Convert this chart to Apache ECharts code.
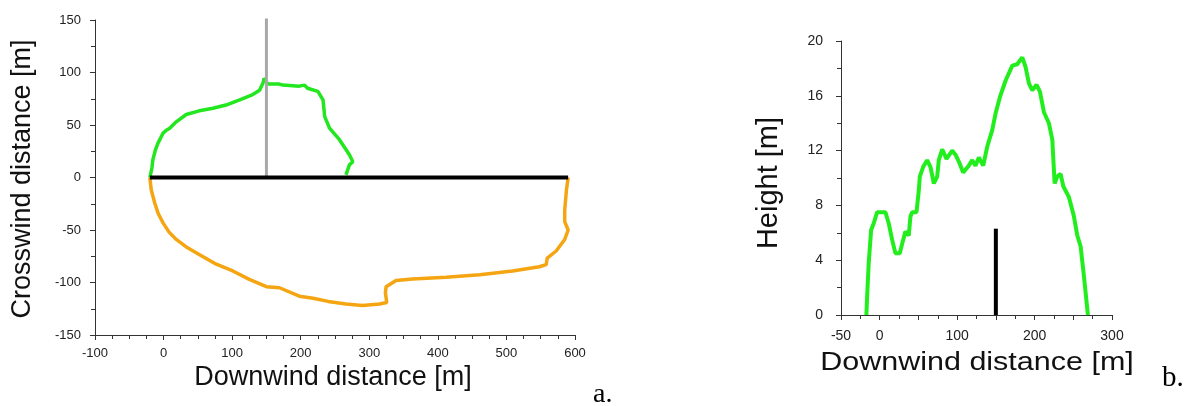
<!DOCTYPE html>
<html><head><meta charset="utf-8">
<script src="https://cdn.jsdelivr.net/npm/echarts@6/dist/echarts.min.js"></script>
<style>html,body{margin:0;padding:0;background:#fff}#c{width:1189px;height:406px}</style>
</head><body><div id="c"></div>
<script>
// Panel a: plume outline (downwind x, crosswind y)
const aGreenX = [-20,-19,-17,-15.6,-12,-8,-4,-1,4,9,18.5,33,52,72,91,111,130,140,145,146.5,152,169,174,198,205.5,210,225,232.5,235,242,256.5,271,276,271,266];
const aGreenY = [0,1,9,17,26,33,38,42,45,47,53,60,63.5,66,69,74,79,83,90,94.5,89,89,88,87,88,85,82,74,58,47,36,21.6,15,12,2.5];
const aOrangeX = [-20,-19,-18,-15,-13,-8,-1,8,18.5,35,52.5,75,101,125,150,169,198,218,240,266,290,315,325.5,323.5,324.5,339,363,412,461,509,548,558,559.5,572.5,585,590,585,585,587.5,590];
const aOrangeY = [0,-6,-11.7,-19,-24,-34,-43,-52,-59,-67,-73.5,-82,-89,-97,-104,-105,-113,-115,-118,-120.5,-122,-120.5,-119,-110,-104,-98,-96.7,-95,-92.6,-89,-85,-83,-76.7,-70,-59,-50,-42,-31,-12,0];
const aBaseX = [-20, 590];
const aBaseY = [0, 0];
const aMarkX = [150, 150];
const aMarkY = [0, 155];
// Panel b: plume height profile
const bGreenX = [-17.2,-16.3,-14.2,-11.1,-7.7,-3.4,7.4,11.6,16,20.3,25.9,29,33.2,37.5,39.7,41.9,47.5,50.5,51.8,56,61.3,65.6,69.9,74.2,76.3,80.7,86.2,93.6,97.9,102.2,107.8,115,119.5,123.7,128,133.7,138.9,145.3,149.6,155.2,162.5,171.2,177.6,184.1,188.4,192.7,197.1,202.6,206.9,212.1,218.5,222.9,225.9,229.4,233.6,237.1,244.4,250.8,255.2,259.5,263.8,268.9];
const bGreenY = [0,1.3,3.8,6.2,6.7,7.5,7.5,6.7,5.5,4.5,4.5,5.2,6.1,5.8,7.2,7.5,7.5,9.1,10.1,10.8,11.3,10.8,9.6,10.1,11.3,12.1,11.4,12.0,11.7,11.2,10.4,10.9,11.3,10.9,11.5,10.9,12.3,13.5,14.7,15.9,17.1,18.2,18.3,18.8,18.1,16.9,16.4,16.8,16.3,14.8,14.0,12.8,9.6,10.1,10.3,9.4,8.6,7.2,5.8,5.0,2.8,0];
const bBarX = [150, 150];
const bBarY = [0, 6.3];
// Tick labels
const aXTicks = [-100,0,100,200,300,400,500,600];
const aYTicks = [-150,-100,-50,0,50,100,150];
const bXTicks = [-50,0,100,200,300];
const bYTicks = [0,4,8,12,16,20];
// Texts
const aXTitle = 'Downwind distance [m]';
const aYTitle = 'Crosswind distance [m]';
const bXTitle = 'Downwind distance [m]';
const bYTitle = 'Height [m]';

const zip = (xs, ys) => xs.map((x, i) => [x, ys[i]]);
const FONT = 'Liberation Sans, Arial, sans-serif';
const SERIF = 'Liberation Serif, Times New Roman, serif';
const axisCommon = {
  axisLine: {show: true, onZero: false, lineStyle: {color: '#333', width: 1}},
  axisTick: {show: true, inside: false, length: 5, lineStyle: {color: '#333'}},
  minorTick: {show: true, length: 4, lineStyle: {color: '#333'}},
  splitLine: {show: false},
  minorSplitLine: {show: false}
};
const line = (data, color, width, xi) => ({
  type: 'line', xAxisIndex: xi, yAxisIndex: xi, data, showSymbol: false, symbol: 'none',
  lineStyle: {color, width}, animation: false, silent: true, smooth: false
});
const title = (text, x, y, size, rot, sx) => ({
  type: 'text', x, y, rotation: rot || 0, scaleX: sx || 1, silent: true,
  style: {text, fontSize: size, fontFamily: FONT, fill: '#111', align: 'center', verticalAlign: 'middle'}
});

const chart = echarts.init(document.getElementById('c'), null, {renderer: 'canvas'});
chart.setOption({
  animation: false,
  grid: [
    {left: 95, top: 20, width: 480, height: 315},
    {left: 841, top: 41, width: 271, height: 274}
  ],
  xAxis: [
    Object.assign({}, axisCommon, {
      gridIndex: 0, type: 'value', min: -100, max: 600, interval: 100,
      minorTick: Object.assign({}, axisCommon.minorTick, {splitNumber: 4}),
      axisLabel: {color: '#222', fontSize: 13, fontFamily: FONT, margin: 12,
        formatter: v => aXTicks.includes(v) ? String(v) : ''}
    }),
    Object.assign({}, axisCommon, {
      gridIndex: 1, type: 'value', min: -50, max: 300, interval: 50,
      minorTick: Object.assign({}, axisCommon.minorTick, {splitNumber: 2}),
      axisLabel: {color: '#222', fontSize: 14, fontFamily: FONT, margin: 14,
        formatter: v => bXTicks.includes(v) ? String(v) : ''}
    })
  ],
  yAxis: [
    Object.assign({}, axisCommon, {
      gridIndex: 0, type: 'value', min: -150, max: 150, interval: 50,
      minorTick: Object.assign({}, axisCommon.minorTick, {splitNumber: 2}),
      axisLabel: {color: '#222', fontSize: 13, fontFamily: FONT, margin: 14,
        formatter: v => aYTicks.includes(v) ? String(v) : ''}
    }),
    Object.assign({}, axisCommon, {
      gridIndex: 1, type: 'value', min: 0, max: 20, interval: 4,
      minorTick: Object.assign({}, axisCommon.minorTick, {splitNumber: 2}),
      axisLabel: {color: '#222', fontSize: 14, fontFamily: FONT, margin: 18,
        formatter: v => bYTicks.includes(v) ? String(v) : ''}
    })
  ],
  series: [
    line(zip(aGreenX, aGreenY), '#22e61e', 3.5, 0),
    line(zip(aOrangeX, aOrangeY), '#f5a511', 3.5, 0),
    line(zip(aMarkX, aMarkY), '#a8a8a8', 3, 0),
    line(zip(aBaseX, aBaseY), '#000000', 4, 0),
    line(zip(bGreenX, bGreenY), '#22ee1e', 4, 1),
    line(zip(bBarX, bBarY), '#000000', 4, 1)
  ],
  graphic: [
    title(aXTitle, 333, 378, 27),
    title(aYTitle, 23, 179, 27, Math.PI / 2),
    title(bXTitle, 977, 363, 25, 0, 1.22),
    title(bYTitle, 769, 183, 29, Math.PI / 2),
    {type: 'text', left: 593, top: 381, silent: true, style: {text: 'a.', fontSize: 28, fontFamily: SERIF, fill: '#000'}},
    {type: 'text', left: 1162, top: 364, silent: true, style: {text: 'b.', fontSize: 29, fontFamily: SERIF, fill: '#000'}}
  ]
});
</script></body></html>
